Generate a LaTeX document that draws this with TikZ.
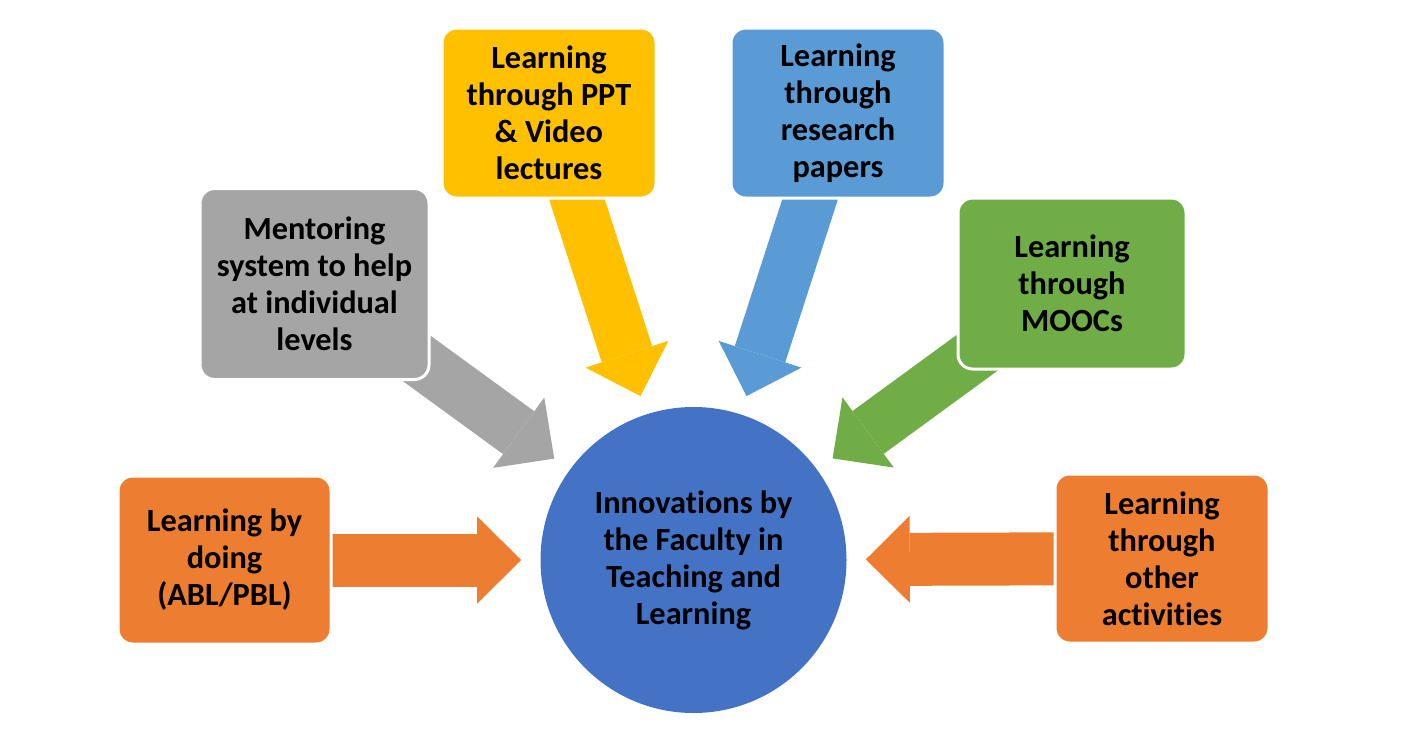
\documentclass[tikz,border=0pt]{standalone}
\usepackage{fontspec}
\setmainfont{Carlito}[Ligatures=NoCommon]
\usetikzlibrary{arrows.meta,backgrounds}

\definecolor{tlorange}{HTML}{ED7D31}
\definecolor{tlgray}{HTML}{A5A5A5}
\definecolor{tlyellow}{HTML}{FFC000}
\definecolor{tlsky}{HTML}{5B9BD5}
\definecolor{tlgreen}{HTML}{70AD47}
\definecolor{tlblue}{HTML}{4472C4}

\tikzset{
  tlbox/.style={draw=white, line width=2.25pt, rounded corners=11pt, align=center, inner sep=0pt, text=black, font=\fontsize{24.25}{27.75}\selectfont\bfseries},
  tlhub/.style={circle, fill=tlblue, minimum size=229.5pt, align=center, inner sep=0pt, text=black, font=\fontsize{24.25}{27.75}\selectfont\bfseries},
  tlarr/.style={line width=39.75pt, -{Triangle[width=65.25pt, length=33pt, line width=0pt]}, shorten >=14.25pt}
}

\begin{document}
\begin{tikzpicture}[x=0.75pt,y=-0.75pt]
        \useasboundingbox (0,0) rectangle (1413,743);

        \node[tlhub] (hub) at (693.5,560) {Innovations by\\the Faculty in\\Teaching and\\Learning};

        \node[tlbox, fill=tlorange, minimum width=159.75pt, minimum height=126pt] (doing) at (224.5,560) {Learning by\\doing\\(ABL/PBL)};
        \node[tlbox, fill=tlgray, minimum width=171.75pt, minimum height=143.25pt] (mentor) at (314.5,284) {Mentoring\\system to help\\at individual\\levels};
        \node[tlbox, fill=tlyellow, minimum width=160.5pt, minimum height=127.5pt] (ppt) at (549,113) {Learning\\through PPT\\\& Video\\lectures};
        \node[tlbox, fill=tlsky, minimum width=160.5pt, minimum height=127.5pt] (papers) at (838,113) {Learning\\through\\research\\papers};
        \node[tlbox, fill=tlgreen, minimum width=171pt, minimum height=128.25pt] (moocs) at (1072,283.5) {Learning\\through\\MOOCs};
        \node[tlbox, fill=tlorange, minimum width=160.5pt, minimum height=126.75pt] (other) at (1162,558.5) {Learning\\through\\other\\activities};

        % block arrows into the hub
        \begin{scope}[on background layer]
          \draw[tlarr, draw=tlorange] (doing.center) -- (hub);
          \draw[tlarr, draw=tlgray] (mentor.center) -- (hub);
          \draw[tlarr, draw=tlyellow] (ppt.center) -- (hub);
          \draw[tlarr, draw=tlsky] (papers.center) -- (hub);
          \draw[tlarr, draw=tlgreen] (moocs.center) -- (hub);
          \draw[tlarr, draw=tlorange] (other.center) -- (hub);
        \end{scope}
\end{tikzpicture}
\end{document}
